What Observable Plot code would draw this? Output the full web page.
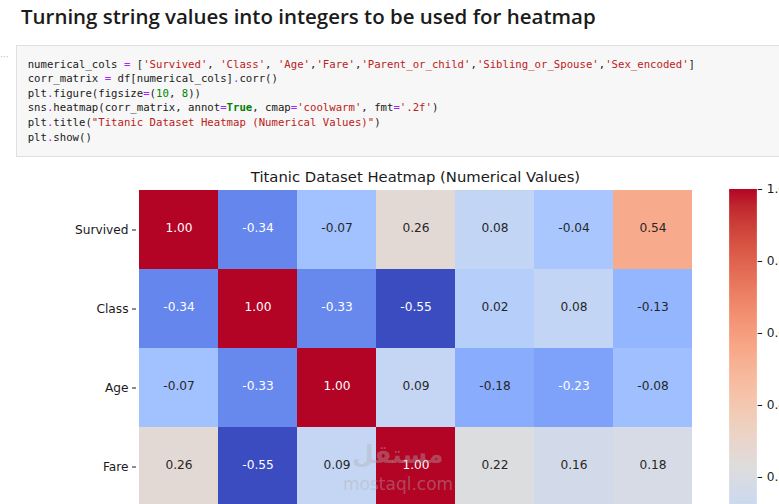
<!DOCTYPE html>
<html>
<head>
<meta charset="utf-8">
<script src="https://cdn.jsdelivr.net/npm/d3@7"></script>
<script src="https://cdn.jsdelivr.net/npm/@observablehq/plot@0.6"></script>
<style>
  html, body { margin: 0; padding: 0; background: #fff; }
  body { width: 779px; height: 504px; overflow: hidden; position: relative; }
  #heading { position: absolute; left: 21px; top: 4px; white-space: nowrap;
    font-family: "Open Sans", "Noto Sans", sans-serif; font-weight: 600; font-size: 20px;
    line-height: 24px; color: #1b1b1b; }
  #prompt { position: absolute; left: 0px; top: 52px; font: 9px "DejaVu Sans", sans-serif; color: #bdbdbd; }
  #codebox { position: absolute; left: 16px; top: 45px; width: 820px; height: 110px;
    background: #f7f7f7; border: 1px solid #e0e0e0; }
  #code { position: absolute; left: 27.7px; top: 57.7px; margin: 0; white-space: pre;
    font-family: "DejaVu Sans Mono", "Liberation Mono", monospace; font-size: 10.66px;
    line-height: 14.6px; color: #202020; }
  #code .s { color: #ba2121; }
  #code .n { color: #008800; }
  #code .k { color: #008000; font-weight: bold; }
  #code .o { color: #aa22ff; }
  #heat { position: absolute; left: 0; top: 160px; }
  #cbar { position: absolute; left: 720px; top: 160px; }
  #wm1 { position: absolute; left: 352px; top: 440px; font: bold 25px "DejaVu Sans", sans-serif;
    color: rgba(175,175,175,0.4); direction: rtl; }
  #wm2 { position: absolute; left: 343px; top: 474px; font: 17px "DejaVu Sans", sans-serif;
    color: rgba(175,175,175,0.4); }
</style>
</head>
<body>
<div id="heading">Turning string values into integers to be used for heatmap</div>
<div id="prompt">···</div>
<div id="codebox"></div>
<pre id="code"></pre>
<div id="heat"></div>
<div id="cbar"></div>
<div id="wm1">مستقل</div>
<div id="wm2">mostaql.com</div>
<script>
// ---------------- data ----------------
const columns = ["Survived", "Class", "Age", "Fare", "Parent_or_child", "Sibling_or_Spouse", "Sex_encoded"];
const rows = ["Survived", "Class", "Age", "Fare"];
const survivedRow = [1.00, -0.34, -0.07, 0.26, 0.08, -0.04, 0.54];
const classRow    = [-0.34, 1.00, -0.33, -0.55, 0.02, 0.08, -0.13];
const ageRow      = [-0.07, -0.33, 1.00, 0.09, -0.18, -0.23, -0.08];
const fareRow     = [0.26, -0.55, 0.09, 1.00, 0.22, 0.16, 0.18];
const colorbarTicks = [1.0, 0.8, 0.6, 0.4, 0.2, 0.0, -0.2, -0.4];
const chartTitle = "Titanic Dataset Heatmap (Numerical Values)";
const headingText = "Turning string values into integers to be used for heatmap";
const codeLines = [
  "numerical_cols = ['Survived', 'Class', 'Age','Fare','Parent_or_child','Sibling_or_Spouse','Sex_encoded']",
  "corr_matrix = df[numerical_cols].corr()",
  "plt.figure(figsize=(10, 8))",
  "sns.heatmap(corr_matrix, annot=True, cmap='coolwarm', fmt='.2f')",
  "plt.title(\"Titanic Dataset Heatmap (Numerical Values)\")",
  "plt.show()"
];

// ---------------- styles: matplotlib "coolwarm" ----------------
const coolwarmStops = [
  [59,76,192],[68,90,204],[77,104,215],[87,117,225],[98,130,234],[108,142,241],[119,154,247],
  [130,165,251],[141,176,254],[152,185,255],[163,194,255],[174,201,253],[184,208,249],[194,213,244],
  [204,217,238],[213,219,230],[221,221,221],[229,216,209],[236,211,197],[241,204,184],[245,196,172],
  [247,187,159],[247,177,147],[247,166,134],[244,154,123],[241,141,111],[236,127,99],[229,112,88],
  [222,96,77],[213,80,66],[203,62,56],[192,40,47],[180,4,38]
].map(c => `rgb(${c[0]},${c[1]},${c[2]})`);
const coolwarm = d3.piecewise(d3.interpolateRgb, coolwarmStops);

// ---------------- heading + code ----------------
(function () {
  const h = document.getElementById("heading");
  h.textContent = headingText;
  const w = h.getBoundingClientRect().width;
  const hfs = 20 * 575 / w;
  h.style.fontSize = hfs.toFixed(2) + "px";
  h.style.top = (24 - 12 - 0.36 * hfs - 0.5).toFixed(2) + "px";

  const code = document.getElementById("code");
  const esc = s => s.replace(/&/g, "&amp;").replace(/</g, "&lt;");
  function hl(line) {
    let out = "";
    const re = /('[^']*'|"[^"]*")|(\b\d+\b)|(\bTrue\b)|([=.])|([^'"=.\d]+|.)/g;
    let m;
    while ((m = re.exec(line))) {
      if (m[1]) out += `<span class="s">${esc(m[1])}</span>`;
      else if (m[2]) out += `<span class="n">${m[2]}</span>`;
      else if (m[3]) out += `<span class="k">${m[3]}</span>`;
      else if (m[4]) out += `<span class="o">${m[4]}</span>`;
      else out += esc(m[0]);
    }
    return out;
  }
  code.innerHTML = codeLines.map(hl).join("\n");
})();

// ---------------- heatmap ----------------
const rowValues = [survivedRow, classRow, ageRow, fareRow];
const cells = [];
rows.forEach((r, i) => columns.forEach((c, j) => cells.push({row: r, col: c, value: rowValues[i][j]})));
const vmin = d3.min(cells, d => d.value);
const vmax = d3.max(cells, d => d.value);

function luminance(color) {
  const c = d3.rgb(color);
  const f = v => { v /= 255; return v <= 0.03928 ? v / 12.92 : Math.pow((v + 0.055) / 1.055, 2.4); };
  return 0.2126 * f(c.r) + 0.7152 * f(c.g) + 0.0722 * f(c.b);
}
const textColor = d => luminance(coolwarm((d.value - vmin) / (vmax - vmin))) > 0.408 ? "#262626" : "#ffffff";

const gLeft = 136, gRight = 694, gTop = 29;
const cellH = (gRight - gLeft) / columns.length;   // square cells
const fs = 12.2;

const colorScale = {type: "linear", domain: [vmin, vmax], interpolate: coolwarm};

const heat = Plot.plot({
  width: 779,
  height: Math.ceil(gTop + rows.length * cellH),
  marginLeft: gLeft,
  marginRight: 779 - gRight,
  marginTop: gTop,
  marginBottom: 0,
  style: {fontFamily: "DejaVu Sans, sans-serif", fontSize: fs + "px", color: "#1a1a1a", background: "transparent", overflow: "visible"},
  x: {domain: columns, padding: 0, axis: null},
  y: {domain: rows, padding: 0, range: [gTop, gTop + rows.length * cellH], tickSize: 4, tickPadding: 4, label: null},
  color: colorScale,
  marks: [
    Plot.cell(cells, {x: "col", y: "row", fill: "value", inset: 0, shapeRendering: "crispEdges"}),
    Plot.text(cells, {x: "col", y: "row", text: d => d.value.toFixed(2), fill: textColor, dy: -1.5,
      fontSize: fs, fontFamily: "DejaVu Sans, sans-serif"}),
    Plot.text([chartTitle], {text: d => d, frameAnchor: "top", dy: -18, fontSize: 14.8,
      fill: "#1a1a1a", fontFamily: "DejaVu Sans, sans-serif"})
  ]
});
document.getElementById("heat").appendChild(heat);

// ---------------- colorbar ----------------
const barH = cellH * columns.length;
const step = (vmax - vmin) / 600;
const ramp = d3.range(vmin, vmax, step).map(v => ({v, v2: Math.min(vmax, v + 2 * step)}));
const cbar = Plot.plot({
  width: 59,
  height: Math.ceil(gTop + barH + 10),
  marginLeft: 9.3,
  marginRight: 22.3,
  marginTop: gTop,
  marginBottom: 10,
  style: {fontFamily: "DejaVu Sans, sans-serif", fontSize: fs + "px", color: "#1a1a1a", background: "transparent", overflow: "visible"},
  x: {domain: [0, 1], axis: null},
  y: {domain: [vmin, vmax], axis: "right", ticks: colorbarTicks, tickFormat: d3.format(".1f"), tickSize: 4.5, tickPadding: 5, label: null},
  color: colorScale,
  marks: [
    Plot.rect(ramp, {x1: 0, x2: 1, y1: "v", y2: "v2", fill: "v"})
  ]
});
document.getElementById("cbar").appendChild(cbar);
</script>
</body>
</html>
